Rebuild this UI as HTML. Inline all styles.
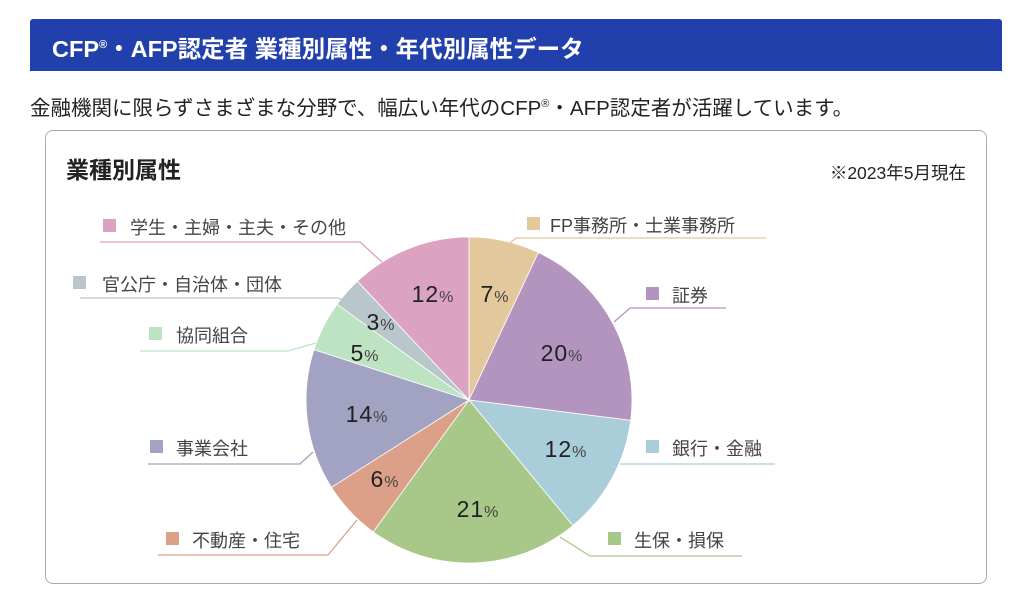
<!DOCTYPE html>
<html><head><meta charset="utf-8"><style>
body{margin:0;width:1024px;height:609px;background:#fff;font-family:"Liberation Sans","Noto Sans CJK JP",sans-serif;overflow:hidden;position:relative}
.hd{position:absolute;left:30px;top:19px;width:972px;height:52px;background:#2240ab;color:#fff;font-weight:bold;font-size:23.5px;line-height:52px;box-sizing:border-box;padding-left:22px;border-radius:3px 3px 0 0;white-space:nowrap}
.sub{position:absolute;left:30px;top:91px;font-size:20.5px;color:#222;white-space:nowrap}
.box{position:absolute;left:45px;top:130px;width:942px;height:454px;border:1px solid #aaa;border-radius:8px;box-sizing:border-box}
sup{font-size:11px}
</style></head><body>
<div class="hd">CFP<sup>®</sup>・AFP認定者 業種別属性・年代別属性データ</div>
<div class="sub">金融機関に限らずさまざまな分野で、幅広い年代のCFP<sup>®</sup>・AFP認定者が活躍しています。</div>
<div class="box"></div>
<svg width="1024" height="609" style="position:absolute;left:0;top:0" font-family="Liberation Sans, Noto Sans CJK JP, sans-serif">
<text x="66" y="178" font-size="23" font-weight="bold" fill="#222">業種別属性</text>
<text x="966" y="179" font-size="17.5" fill="#222" text-anchor="end">※2023年5月現在</text>
<g stroke="#fff" stroke-width="0.8">
<path d="M469,400 L469,237 A163,163 0 0 1 538.4,252.5Z" fill="#e2c89a"/>
<path d="M469,400 L538.4,252.5 A163,163 0 0 1 630.7,420.4Z" fill="#b394bf"/>
<path d="M469,400 L630.7,420.4 A163,163 0 0 1 572.9,525.6Z" fill="#a9cdd9"/>
<path d="M469,400 L572.9,525.6 A163,163 0 0 1 373.2,531.9Z" fill="#a8c88a"/>
<path d="M469,400 L373.2,531.9 A163,163 0 0 1 331.4,487.3Z" fill="#dca088"/>
<path d="M469,400 L331.4,487.3 A163,163 0 0 1 314.0,349.6Z" fill="#a2a2c2"/>
<path d="M469,400 L314.0,349.6 A163,163 0 0 1 337.1,304.2Z" fill="#bde3c3"/>
<path d="M469,400 L337.1,304.2 A163,163 0 0 1 357.4,281.2Z" fill="#b9c7cb"/>
<path d="M469,400 L357.4,281.2 A163,163 0 0 1 469,237Z" fill="#dba2c2"/>
</g>
<g fill="none" stroke-width="1.3">
<polyline points="100,242 360,242 382,262" stroke="#dba2c2"/>
<polyline points="80,298 338,298 350,303" stroke="#b9c7cb"/>
<polyline points="140,351 288,351 316,343" stroke="#bde3c3"/>
<polyline points="148,464 300,464 313,452" stroke="#a2a2c2"/>
<polyline points="158,555 328,555 357,520" stroke="#dca088"/>
<polyline points="510,243 516,238 766,238" stroke="#e2c89a"/>
<polyline points="614,322 630,308 726,308" stroke="#b394bf"/>
<polyline points="620,464 775,464" stroke="#a9cdd9"/>
<polyline points="560,537 590,556 742,556" stroke="#a8c88a"/>
</g>
<g font-size="18" fill="#444">
<rect x="103" y="219" width="13" height="13" fill="#dba2c2"/><text x="130" y="234">学生・主婦・主夫・その他</text>
<rect x="73" y="276" width="13" height="13" fill="#b9c7cb"/><text x="102" y="291">官公庁・自治体・団体</text>
<rect x="149" y="327" width="13" height="13" fill="#bde3c3"/><text x="176" y="342">協同組合</text>
<rect x="150" y="440" width="13" height="13" fill="#a2a2c2"/><text x="176" y="455">事業会社</text>
<rect x="166" y="532" width="13" height="13" fill="#dca088"/><text x="192" y="547">不動産・住宅</text>
<rect x="527" y="217" width="13" height="13" fill="#e2c89a"/><text x="550" y="232">FP事務所・士業事務所</text>
<rect x="646" y="287" width="13" height="13" fill="#b394bf"/><text x="672" y="302">証券</text>
<rect x="646" y="440" width="13" height="13" fill="#a9cdd9"/><text x="672" y="455">銀行・金融</text>
<rect x="608" y="532" width="13" height="13" fill="#a8c88a"/><text x="634" y="547">生保・損保</text>
</g>
<g font-size="23" fill="#222" text-anchor="middle" letter-spacing="1">
<text x="433" y="302">12<tspan font-size="16" fill="#444">%</tspan></text>
<text x="495" y="302">7<tspan font-size="16" fill="#444">%</tspan></text>
<text x="562" y="361">20<tspan font-size="16" fill="#444">%</tspan></text>
<text x="566" y="457">12<tspan font-size="16" fill="#444">%</tspan></text>
<text x="478" y="517">21<tspan font-size="16" fill="#444">%</tspan></text>
<text x="385" y="487">6<tspan font-size="16" fill="#444">%</tspan></text>
<text x="367" y="422">14<tspan font-size="16" fill="#444">%</tspan></text>
<text x="365" y="361">5<tspan font-size="16" fill="#444">%</tspan></text>
<text x="381" y="330">3<tspan font-size="16" fill="#444">%</tspan></text>
</g>
</svg>
</body></html>
